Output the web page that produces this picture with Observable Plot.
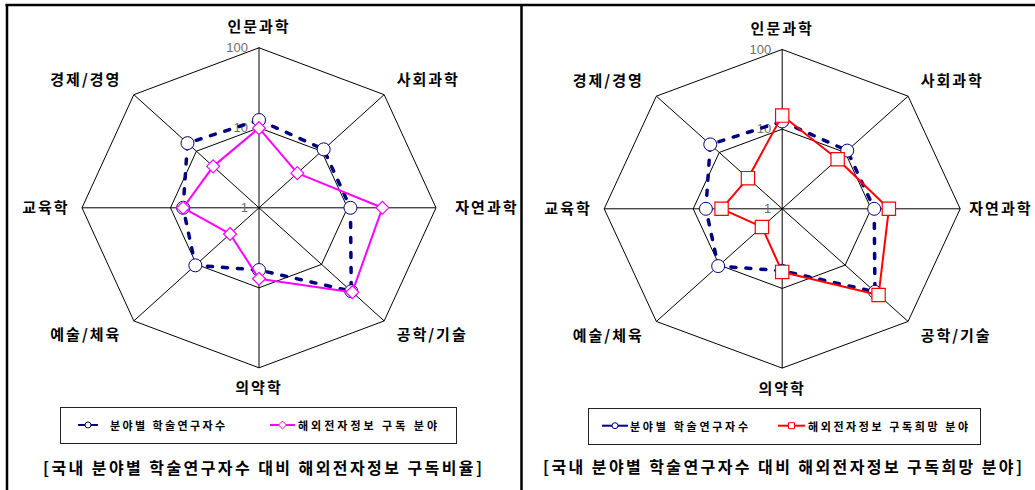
<!DOCTYPE html>
<html><head><meta charset="utf-8">
<script src="https://cdn.jsdelivr.net/npm/d3@7"></script>
<script src="https://cdn.jsdelivr.net/npm/@observablehq/plot@0.6"></script>
<style>
body{margin:0;background:#fff}
#wrap{position:relative;width:1035px;height:490px;overflow:hidden;background:#fff}
#wrap > svg{position:absolute;top:0}
</style>
</head><body><div id="wrap"></div>
<script>
// ---- data ----
const categories = ["인문과학","사회과학","자연과학","공학/기술","의약학","예술/체육","교육학","경제/경영"];
const researchers = [12.5, 10.8, 10.8, 29.8, 6.0, 10.4, 7.2, 13.9];
const subscribed  = [9.9, 4.1, 24.8, 31.0, 7.7, 2.9, 7.2, 5.4];
const desired     = [14.8, 7.6, 15.8, 34.0, 6.2, 2.1, 4.8, 3.5];
const ticks = [1, 10, 100];
const seriesNames = ["분야별 학술연구자수", "해외전자정보 구독 분야", "해외전자정보 구독희망 분야"];
const captions = ["[국내 분야별 학술연구자수 대비 해외전자정보 구독비율]", "[국내 분야별 학술연구자수 대비 해외전자정보 구독희망 분야]"];

// ---- helpers ----
const KR = "'Noto Sans CJK KR', 'Noto Sans', sans-serif";
const maxLog = Math.log10(d3.max(ticks));
const frac = v => Math.log10(v) / maxLog;
const ang = i => i * 2 * Math.PI / categories.length;
const poly = vals => vals.map((v, i) => ({cat: categories[i], v, x: frac(v) * Math.sin(ang(i)), y: frac(v) * Math.cos(ang(i))}));
const close = pts => [...pts, pts[0]];

function radar(cfg) {
  const s1 = poly(researchers), s2 = poly(cfg.values);
  const rings = ticks.filter(t => frac(t) > 0).flatMap(t =>
    d3.range(categories.length + 1).map(i => ({t, x: frac(t) * Math.sin(ang(i)), y: frac(t) * Math.cos(ang(i))})));
  const spokes = categories.map((c, i) => ({
    x1: frac(ticks[0]) * Math.sin(ang(i)), y1: frac(ticks[0]) * Math.cos(ang(i)),
    x2: Math.sin(ang(i)), y2: Math.cos(ang(i))}));
  const labels = categories.map((c, i) => {
    const s = Math.sin(ang(i)), co = Math.cos(ang(i));
    const k = Math.abs(s) > 0.9 ? 1.07 : 1.1;
    return {c, s: Math.round(s * 1000) / 1000, x: k * s, y: 1.13 * co, yc: co};
  });
  const labelStyle = {fontSize: 15, fontWeight: "bold", fontFamily: KR, fill: "#000"};
  const svg = Plot.plot({
    width: cfg.width, height: 400,
    marginTop: 0, marginLeft: 0, marginBottom: 0, marginRight: 3,
    x: {domain: [-1, 1], range: [cfg.cx - cfg.rx, cfg.cx + cfg.rx], axis: null},
    y: {domain: [-1, 1], range: [cfg.cy + cfg.ry, cfg.cy - cfg.ry], axis: null},
    style: {background: "transparent", overflow: "visible"},
    marks: [
      Plot.line(rings, {x: "x", y: "y", z: "t", stroke: "#000", strokeWidth: 1}),
      Plot.link(spokes, {x1: "x1", y1: "y1", x2: "x2", y2: "y2", stroke: "#000", strokeWidth: 1}),
      Plot.text(ticks, {x: 0, y: t => frac(t), text: d => String(d), dx: -11, textAnchor: "end",
        fill: "#6e6e6e", fontSize: 13, fontFamily: "'Liberation Sans', Arial, sans-serif"}),
      Plot.line(close(s1), {x: "x", y: "y", stroke: "#000080", strokeWidth: 3.5, strokeDasharray: "5,10"}),
      Plot.dot(s1, {x: "x", y: "y", r: 6.5, fill: "white", stroke: "#000080", strokeWidth: 1}),
      Plot.line(close(s2), {x: "x", y: "y", stroke: cfg.color, strokeWidth: 2}),
      Plot.dot(s2, {x: "x", y: "y", symbol: cfg.symbol, r: cfg.r, fill: "white", stroke: cfg.color, strokeWidth: 1.2}),
      Plot.text(labels.filter(d => d.s > 0 && d.s < 0.99), {x: "x", y: "y", text: "c", textAnchor: "start", ...labelStyle}),
      Plot.text(labels.filter(d => d.s >= 0.99), {y: "yc", text: "c", frameAnchor: "right", textAnchor: "end", ...labelStyle}),
      Plot.text(labels.filter(d => d.s < 0), {x: "x", y: "y", text: "c", textAnchor: "end", ...labelStyle}),
      Plot.text(labels.filter(d => d.s === 0), {x: "x", y: "y", text: "c", textAnchor: "middle", ...labelStyle})
    ]
  });
  d3.select(svg).style("left", cfg.left + "px");
  d3.select(svg).selectAll("text")
    .filter(function() { return categories.includes(this.textContent); })
    .attr("letter-spacing", "2")
    .style("letter-spacing", "2px");
  return svg;
}

const wrap = document.getElementById("wrap");
wrap.appendChild(radar({left: 0, width: 521, cx: 258.5, cy: 207.3, rx: 177, ry: 160,
  values: subscribed, color: "#FF00FF", symbol: "diamond2", r: 5.8}));
wrap.appendChild(radar({left: 521, width: 514, cx: 260.7, cy: 208.3, rx: 178, ry: 159.3,
  values: desired, color: "#FF0000", symbol: "square", r: 7.5}));

// ---- overlay: frame, legends, captions ----
const ov = d3.create("svg").attr("width", 1035).attr("height", 490).style("left", "0px");
ov.append("line").attr("x1", 5.5).attr("x2", 1035).attr("y1", 5).attr("y2", 5).attr("stroke", "#000").attr("stroke-width", 2.5);
ov.append("line").attr("x1", 7).attr("x2", 7).attr("y1", 4).attr("y2", 490).attr("stroke", "#000").attr("stroke-width", 2.5);
ov.append("line").attr("x1", 521.5).attr("x2", 521.5).attr("y1", 4).attr("y2", 490).attr("stroke", "#000").attr("stroke-width", 2.5);

const legends = [
  {box: [60.5, 407.5, 396, 36], cy: 425, items: [
    {l1: 78, l2: 98, color: "#000080", symbol: d3.symbolCircle, size: 28, name: seriesNames[0], tx: 110, tw: 115},
    {l1: 270, l2: 295, color: "#FF00FF", symbol: d3.symbolDiamond2, size: 40, name: seriesNames[1], tx: 298, tw: 139}]},
  {box: [588.5, 408.5, 392, 36], cy: 425.7, items: [
    {l1: 602, l2: 628, color: "#000080", symbol: d3.symbolCircle, size: 28, name: seriesNames[0], tx: 630, tw: 118},
    {l1: 778, l2: 805, color: "#FF0000", symbol: d3.symbolSquare, size: 36, name: seriesNames[2], tx: 808, tw: 160}]}
];
for (const lg of legends) {
  ov.append("rect").attr("x", lg.box[0]).attr("y", lg.box[1]).attr("width", lg.box[2]).attr("height", lg.box[3])
    .attr("fill", "none").attr("stroke", "#222").attr("stroke-width", 1);
  for (const it of lg.items) {
    ov.append("line").attr("x1", it.l1).attr("x2", it.l2).attr("y1", lg.cy).attr("y2", lg.cy)
      .attr("stroke", it.color).attr("stroke-width", 2);
    ov.append("path").attr("d", d3.symbol(it.symbol, it.size)()).attr("transform", `translate(${(it.l1 + it.l2) / 2},${lg.cy})`)
      .attr("fill", "white").attr("stroke", it.color).attr("stroke-width", 1);
    ov.append("text").attr("x", it.tx).attr("y", lg.cy).attr("dominant-baseline", "central")
      .attr("font-family", KR).attr("font-weight", "bold").attr("font-size", 11)
      .attr("textLength", it.tw).attr("lengthAdjust", "spacing").text(it.name);
  }
}
const caps = [{x: 262.5, y: 467, w: 439}, {x: 782.5, y: 465.5, w: 479}];
caps.forEach((c, i) => {
  ov.append("text").attr("x", c.x).attr("y", c.y).attr("text-anchor", "middle").attr("dominant-baseline", "central")
    .attr("font-family", KR).attr("font-weight", "bold").attr("font-size", 16)
    .attr("textLength", c.w).attr("lengthAdjust", "spacing").text(captions[i]);
});
wrap.appendChild(ov.node());
</script>
</body></html>
